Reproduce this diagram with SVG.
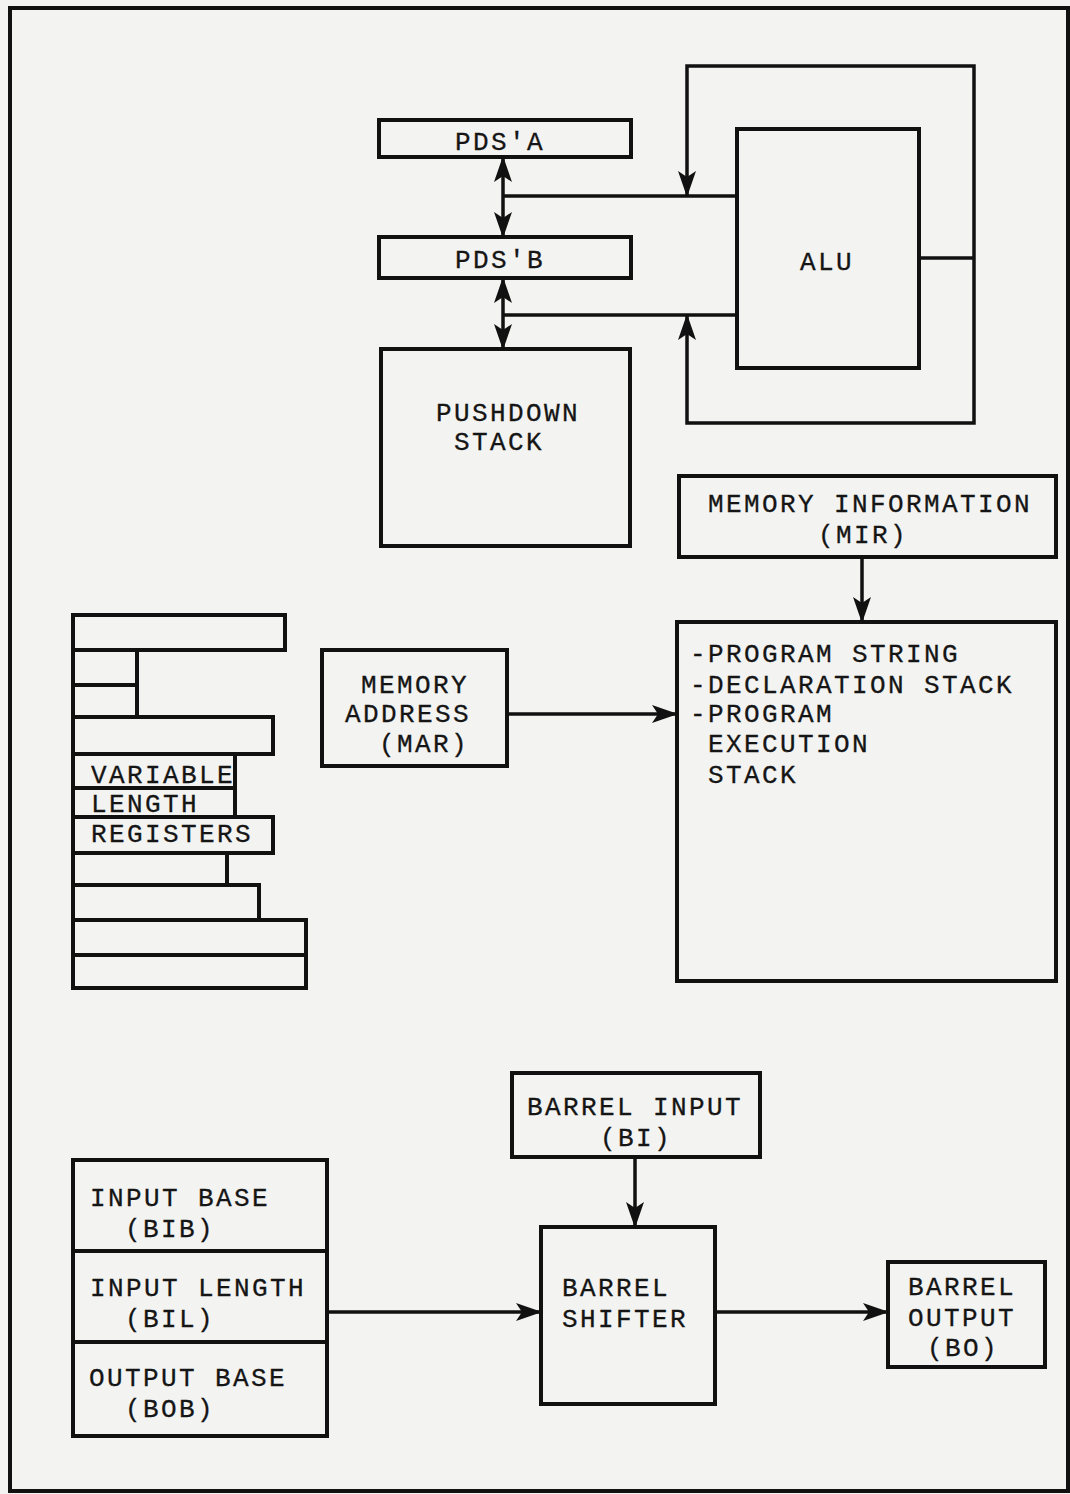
<svg xmlns="http://www.w3.org/2000/svg" width="1070" height="1494" viewBox="0 0 1070 1494">
<style>
.bx{fill:none;stroke:#111;stroke-width:4;stroke-linejoin:miter}
.ln{fill:none;stroke:#111;stroke-width:3.5}
.t{font-family:"Liberation Mono","Courier New",monospace;font-size:26px;letter-spacing:2.4px;fill:#151515;stroke:#151515;stroke-width:0.3}
.m{text-anchor:middle}
</style>
<defs>
<marker id="ah" viewBox="0 0 26 18" refX="25" refY="9" markerWidth="26" markerHeight="18" markerUnits="userSpaceOnUse" orient="auto-start-reverse">
<path d="M0,0 L26,9 L0,18 L6,9 z" fill="#111"/>
</marker>
</defs>
<rect x="0" y="0" width="1070" height="1494" fill="#f3f3f1"/>
<rect x="10" y="8" width="1058" height="1483" class="bx"/>

<g id="pdsa"><rect x="379" y="120" width="252" height="37" class="bx"/><text x="500" y="150" class="t m">PDS'A</text></g>
<g id="pdsb"><rect x="379" y="237" width="252" height="41" class="bx"/><text x="500" y="268" class="t m">PDS'B</text></g>
<g id="pushdown"><rect x="381" y="349" width="249" height="197" class="bx"/><text x="436" y="421" class="t">PUSHDOWN</text><text x="454" y="450" class="t">STACK</text></g>
<g id="alu"><rect x="737" y="129" width="182" height="239" class="bx"/><text x="827" y="270" class="t m">ALU</text></g>
<g id="mir"><rect x="679" y="476" width="377" height="81" class="bx"/><text x="708" y="512" class="t">MEMORY INFORMATION</text><text x="863" y="543" class="t m">(MIR)</text></g>
<g id="memory"><rect x="677" y="622" width="379" height="359" class="bx"/>
<text x="690" y="662" class="t">-PROGRAM STRING</text>
<text x="690" y="693" class="t">-DECLARATION STACK</text>
<text x="690" y="722" class="t">-PROGRAM</text>
<text x="708" y="752" class="t">EXECUTION</text>
<text x="708" y="783" class="t">STACK</text></g>
<g id="mar"><rect x="322" y="650" width="185" height="116" class="bx"/><text x="361" y="693" class="t">MEMORY</text><text x="345" y="722" class="t">ADDRESS</text><text x="379" y="752" class="t">(MAR)</text></g>
<g id="registers">
<rect x="73" y="615" width="212" height="35" class="bx"/>
<rect x="73" y="650" width="64" height="35" class="bx"/>
<rect x="73" y="685" width="64" height="32" class="bx"/>
<rect x="73" y="717" width="200" height="37" class="bx"/>
<rect x="73" y="754" width="162" height="34" class="bx"/>
<rect x="73" y="788" width="162" height="29" class="bx"/>
<rect x="73" y="817" width="200" height="36" class="bx"/>
<rect x="73" y="853" width="154" height="32" class="bx"/>
<rect x="73" y="885" width="186" height="35" class="bx"/>
<rect x="73" y="920" width="233" height="35" class="bx"/>
<rect x="73" y="955" width="233" height="33" class="bx"/>
<text x="91" y="783" class="t">VARIABLE</text>
<text x="91" y="812" class="t">LENGTH</text>
<text x="91" y="842" class="t">REGISTERS</text>
</g>
<g id="barrel-regs">
<rect x="73" y="1160" width="254" height="276" class="bx"/>
<line x1="73" y1="1251" x2="327" y2="1251" class="bx"/>
<line x1="73" y1="1342" x2="327" y2="1342" class="bx"/>
<text x="90" y="1206" class="t">INPUT BASE</text>
<text x="125" y="1237" class="t">(BIB)</text>
<text x="90" y="1296" class="t">INPUT LENGTH</text>
<text x="125" y="1327" class="t">(BIL)</text>
<text x="89" y="1386" class="t">OUTPUT BASE</text>
<text x="125" y="1417" class="t">(BOB)</text>
</g>
<g id="bi"><rect x="512" y="1073" width="248" height="84" class="bx"/><text x="527" y="1115" class="t">BARREL INPUT</text><text x="636" y="1146" class="t m">(BI)</text></g>
<g id="shifter"><rect x="541" y="1227" width="174" height="177" class="bx"/><text x="562" y="1296" class="t">BARREL</text><text x="562" y="1327" class="t">SHIFTER</text></g>
<g id="bo"><rect x="888" y="1262" width="157" height="105" class="bx"/><text x="908" y="1295" class="t">BARREL</text><text x="908" y="1326" class="t">OUTPUT</text><text x="927" y="1356" class="t">(BO)</text></g>

<g id="connectors">
<path d="M503,157 L503,237" class="ln" marker-start="url(#ah)" marker-end="url(#ah)"/>
<path d="M503,278 L503,349" class="ln" marker-start="url(#ah)" marker-end="url(#ah)"/>
<path d="M503,196 L737,196" class="ln"/>
<path d="M503,315 L737,315" class="ln"/>
<path d="M919,258 L974,258" class="ln"/>
<path d="M974,258 L974,66 L687,66 L687,196" class="ln" marker-end="url(#ah)"/>
<path d="M974,258 L974,423 L687,423 L687,315" class="ln" marker-end="url(#ah)"/>
<path d="M862,557 L862,622" class="ln" marker-end="url(#ah)"/>
<path d="M507,714 L677,714" class="ln" marker-end="url(#ah)"/>
<path d="M635,1157 L635,1227" class="ln" marker-end="url(#ah)"/>
<path d="M327,1312 L541,1312" class="ln" marker-end="url(#ah)"/>
<path d="M715,1312 L888,1312" class="ln" marker-end="url(#ah)"/>
</g>
</svg>
